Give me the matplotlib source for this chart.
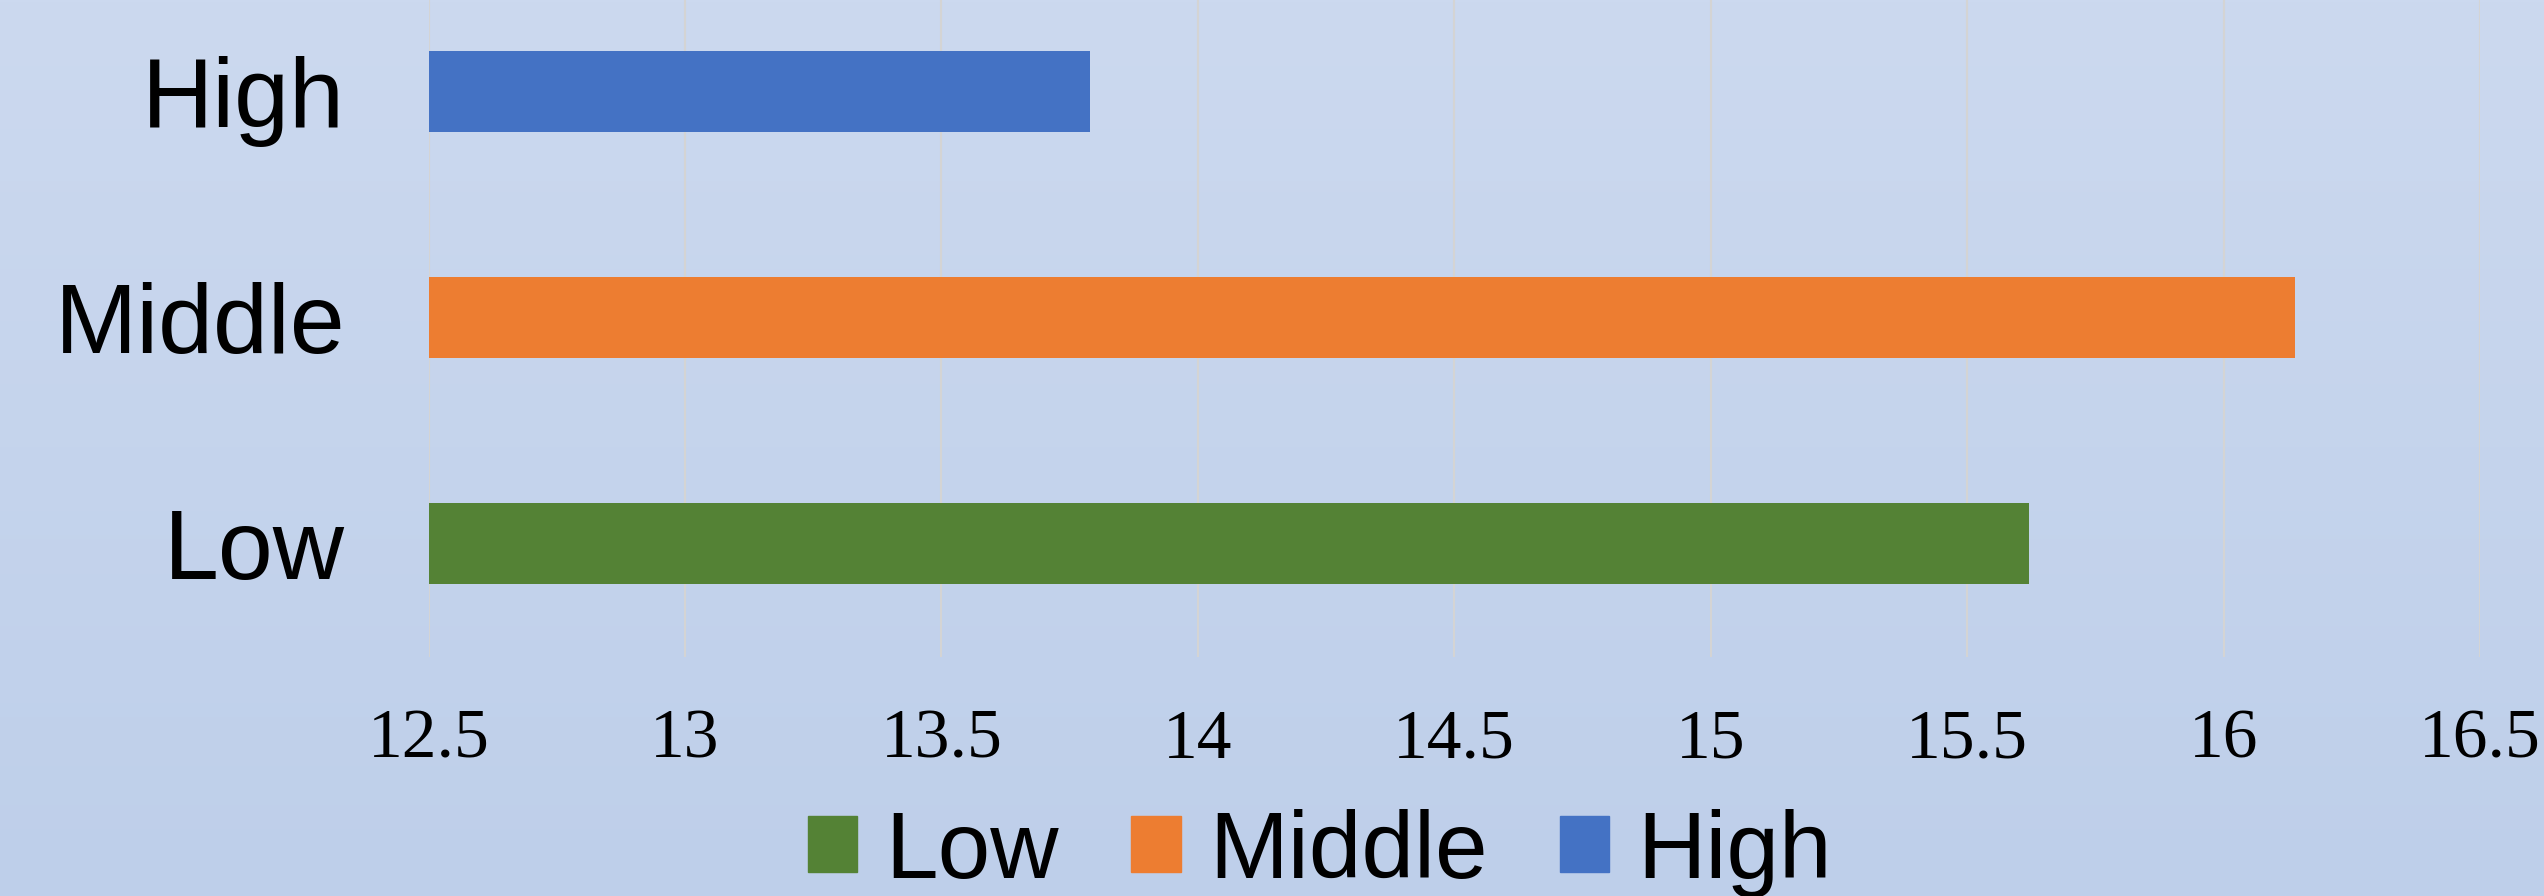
import numpy as np
import matplotlib
matplotlib.use("Agg")
import matplotlib.pyplot as plt
from matplotlib.colors import LinearSegmentedColormap
from matplotlib.patches import Patch

categories = ["Low", "Middle", "High"]
values = [15.62, 16.14, 13.79]
colors = ["#548235", "#ED7D31", "#4472C4"]
xticks = [12.5, 13, 13.5, 14, 14.5, 15, 15.5, 16, 16.5]
xtick_labels = ["12.5", "13", "13.5", "14", "14.5", "15", "15.5", "16", "16.5"]

W, H = 2544, 896
fig = plt.figure(figsize=(W / 100, H / 100), dpi=100)

# gradient background
bg = fig.add_axes([0, 0, 1, 1], zorder=-10)
cmap = LinearSegmentedColormap.from_list("bg", ["#CCD9EF", "#BECFEA"])
bg.imshow(np.linspace(0, 1, 256).reshape(-1, 1), aspect="auto", cmap=cmap,
          extent=[0, 1, 0, 1], origin="upper")
bg.axis("off")

left, right = 428.5 / W, 2480 / W
bottom = 1 - 656.5 / H
ax = fig.add_axes([left, bottom, right - left, 1 - bottom])
ax.patch.set_alpha(0)

y = np.arange(len(categories))
ax.barh(y, values, height=0.36, color=colors, zorder=3)
ax.set_xlim(12.5, 16.5)
ax.set_ylim(-0.5, 2.5 - 21.5 / 226)

ax.set_xticks(xticks)
ax.set_xticklabels(xtick_labels, fontsize=50, family="Liberation Serif")
ax.set_yticks(y)
ax.set_yticklabels(categories, fontsize=71, family="Liberation Sans")
ax.tick_params(axis="x", length=0, pad=38)
ax.tick_params(axis="y", length=0, pad=60)
ax.grid(axis="x", color="#D4D4D4", linewidth=1.5, zorder=0)
ax.set_axisbelow(True)
for s in ax.spines.values():
    s.set_visible(False)

handles = [Patch(color=c, label=l) for c, l in zip(colors, categories)]
fig.legend(handles=handles, loc="center", bbox_to_anchor=(1320 / W, 1 - 853 / H),
           ncol=3, frameon=False, prop={"family": "Liberation Sans", "size": 68},
           handlelength=0.52, handleheight=0.52, handletextpad=0.3,
           columnspacing=0.77, borderpad=0, borderaxespad=0)

fig.savefig("out.png", dpi=100)
